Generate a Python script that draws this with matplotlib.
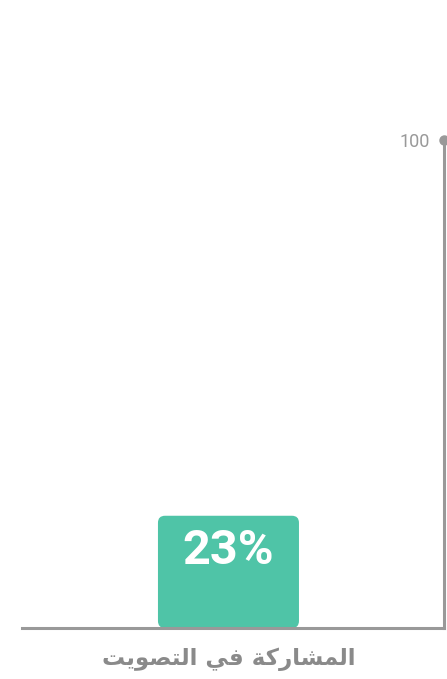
import matplotlib
matplotlib.use("Agg")
import matplotlib.pyplot as plt
from matplotlib.patches import FancyBboxPatch

categories = ["المشاركة في التصويت"]
values = [23]
value_labels = ["23%"]
y_max = 100
y_ticks = [100]

BAR = "#4fc4a7"
GREY = "#999999"

# minimal arabic shaping (matplotlib has no complex text layout)
FORMS = {
    "ا": ("\ufe8d", "\ufe8e", None, None),
    "ل": ("\ufedd", "\ufede", "\ufedf", "\ufee0"),
    "م": ("\ufee1", "\ufee2", "\ufee3", "\ufee4"),
    "ش": ("\ufeb5", "\ufeb6", "\ufeb7", "\ufeb8"),
    "ر": ("\ufead", "\ufeae", None, None),
    "ك": ("\ufed9", "\ufeda", "\ufedb", "\ufedc"),
    "ة": ("\ufe93", "\ufe94", None, None),
    "ف": ("\ufed1", "\ufed2", "\ufed3", "\ufed4"),
    "ي": ("\ufef1", "\ufef2", "\ufef3", "\ufef4"),
    "ت": ("\ufe95", "\ufe96", "\ufe97", "\ufe98"),
    "ص": ("\ufeb9", "\ufeba", "\ufebb", "\ufebc"),
    "و": ("\ufeed", "\ufeee", None, None),
}

def shape(s):
    out = []
    for i, c in enumerate(s):
        if c not in FORMS:
            out.append(c)
            continue
        prev = s[i - 1] if i > 0 else " "
        nxt = s[i + 1] if i + 1 < len(s) else " "
        joins_prev = prev in FORMS and FORMS[prev][2] is not None
        joins_next = nxt in FORMS and FORMS[c][2] is not None
        iso, fin, ini, med = FORMS[c]
        if joins_prev and joins_next:
            out.append(med)
        elif joins_prev:
            out.append(fin)
        elif joins_next:
            out.append(ini)
        else:
            out.append(iso)
    return "".join(out)[::-1]

W, H = 447, 679
fig = plt.figure(figsize=(W / 100, H / 100), dpi=100)
x0, x1, y0, y1 = 22, 444, 140, 628
ax = fig.add_axes([x0 / W, 1 - y1 / H, (x1 - x0) / W, (y1 - y0) / H])

bars = ax.bar(range(len(values)), values, width=0.7, color=BAR)
ax.set_xlim(-1.025, 1.07)
ax.set_ylim(0, y_max)

# swap plain rects for rounded ones
fig.canvas.draw()
px_x = ax.transData.transform((1, 0))[0] - ax.transData.transform((0, 0))[0]
px_y = ax.transData.transform((0, 1))[1] - ax.transData.transform((0, 0))[1]
for b in bars:
    bx, by, bw, bh = b.get_x(), b.get_y(), b.get_width(), b.get_height()
    b.set_visible(False)
    r = 7 / px_x
    ax.add_patch(FancyBboxPatch((bx, by), bw, bh,
                                boxstyle=f"round,pad=0,rounding_size={r}",
                                mutation_aspect=px_x / px_y,
                                fc=BAR, ec="none", zorder=2))
    ax.annotate(value_labels[0], (bx + bw / 2, by + bh), xytext=(0, -35),
                textcoords="offset pixels", ha="center", va="center",
                color="white", fontsize=35, fontweight="bold",
                family="Roboto", zorder=3)

for s in ["top", "left"]:
    ax.spines[s].set_visible(False)
for s in ["right", "bottom"]:
    ax.spines[s].set_color(GREY)
    ax.spines[s].set_linewidth(2.2)
ax.spines["right"].set_zorder(4)

ax.yaxis.tick_right()
ax.set_yticks(y_ticks)
ax.tick_params(axis="y", length=0, pad=-10, labelsize=13, labelcolor=GREY)
for t in ax.get_yticklabels():
    t.set_family("Roboto")
    t.set_ha("right")
ax.plot([1], [y_max], "o", color=GREY, ms=6.5, transform=ax.get_yaxis_transform(),
        clip_on=False, zorder=5)

ax.set_xticks(range(len(categories)))
ax.set_xticklabels([shape(c) for c in categories], fontsize=16.5, fontweight="bold",
                   color="#8a8a8a", family="DejaVu Sans")
ax.tick_params(axis="x", length=0, pad=14)

fig.savefig("out.png", dpi=100)
